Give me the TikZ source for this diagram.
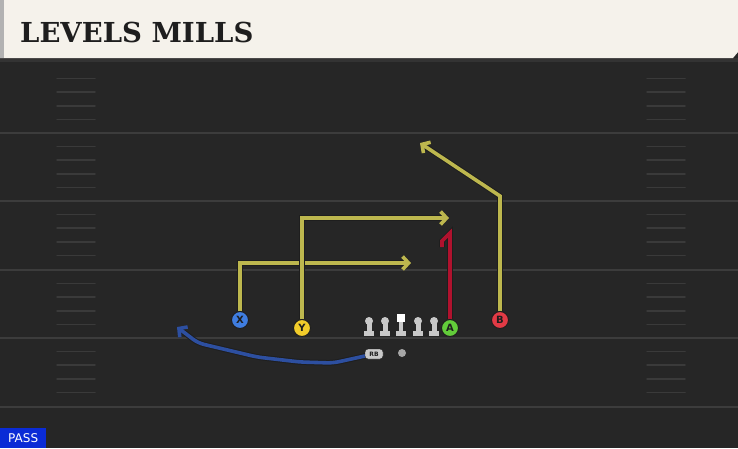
\documentclass[tikz,border=0pt]{standalone}
\usepackage{fontspec}
\newfontfamily\titlefont{DejaVu Serif}[BoldFont={DejaVu Serif Bold}]
\setsansfont{DejaVu Sans}
\usepackage{xcolor}
\definecolor{field}{HTML}{262626}
\definecolor{yardline}{HTML}{3C3C3C}
\definecolor{hashmark}{HTML}{3A3A3A}
\definecolor{header}{HTML}{F5F2EB}
\definecolor{ink}{HTML}{1E1E1E}
\definecolor{route}{HTML}{BDB74E}
\definecolor{redroute}{HTML}{B0122E}
\definecolor{bluerun}{HTML}{2D4FA0}
\definecolor{xblue}{HTML}{3F7DE0}
\definecolor{yyellow}{HTML}{F2CC2A}
\definecolor{agreen}{HTML}{62CC3A}
\definecolor{bred}{HTML}{E23A45}
\definecolor{lineman}{HTML}{C9C9C9}
\definecolor{passblue}{HTML}{0A2BD6}
\usepackage{tikz}
\usetikzlibrary{arrows.meta}
\pgfdeclarelayer{turf}
\pgfdeclarelayer{routes}
\pgfsetlayers{turf,routes,main}

\tikzset{
  player/.style={circle, draw=ink, line width=1pt, minimum size=17pt, inner sep=0pt, font=\sffamily\bfseries\fontsize{10}{10}\selectfont, text=ink},
  path/.style={line width=3.6pt, line join=miter, preaction={draw=ink, line width=5.6pt}},
  tip/.style={-{Straight Barb[length=6pt, width=13pt, line width=3.6pt]}},
}

\begin{document}
\begin{tikzpicture}[x=1pt, y=-1pt]
  \useasboundingbox (0,0) rectangle (738,448);
  \begin{pgfonlayer}{turf}
  % field
  \fill[field] (0,0) rectangle (738,448);
  \foreach \yl in {133, 201, 270, 338, 407} {
    \draw[yardline, line width=2pt] (0,\yl) -- (738,\yl);
  }
  \foreach \yl in {65, 133, 201, 270, 338} {
    \foreach \k in {1,...,4} {
      \draw[hashmark, line width=1.5pt, line cap=round] (57,\yl+\k*13.6) -- (95,\yl+\k*13.6);
      \draw[hashmark, line width=1.5pt, line cap=round] (647,\yl+\k*13.6) -- (685,\yl+\k*13.6);
    }
  }
  % header
  \fill[black!80] (0,58) rectangle (738,62);
  \fill[header] (0,0) -- (738,0) -- (738,52) -- (733,58) -- (0,58) -- cycle;
  \fill[gray!60] (0,0) rectangle (4,58);
  \end{pgfonlayer}
  \node[anchor=base west, inner sep=0pt, text=ink, font=\titlefont\bfseries\fontsize{27.5}{27.5}\selectfont] (title) at (20,42) {LEVELS MILLS};

  % line
  \foreach \xl in {369, 385, 418, 434} {
    \fill[lineman] (\xl,321) circle (4);
    \fill[lineman] (\xl-2.5,321) rectangle (\xl+2.5,332);
    \fill[lineman] (\xl-5,331) rectangle (\xl+5,336);
  }
  \fill[white] (397,314) rectangle (405,322);
  \fill[lineman] (399,322) rectangle (403,332);
  \fill[lineman] (396,331) rectangle (406,336);
  \node[fill=lineman, draw=ink, rounded corners=3pt, minimum width=18pt, minimum height=10pt, inner sep=0pt, font=\sffamily\bfseries\fontsize{6}{6}\selectfont, text=ink] (rb) at (374,354) {RB};
  \node[circle, fill=gray!70, minimum size=8pt, inner sep=0pt] (qb) at (402,353) {};

  % skill players
  \node[player, fill=xblue] (x) at (240,320) {X};
  \node[player, fill=yyellow] (y) at (302,328) {Y};
  \node[player, fill=agreen] (a) at (450,328) {A};
  \node[player, fill=bred] (b) at (500,320) {B};
  \coordinate (xend) at (411,263);
  \coordinate (yend) at (449,218);
  \coordinate (bend) at (420,143);
  \coordinate (rbend) at (177,327);

  % routes
  \begin{pgfonlayer}{routes}
  \draw[path, route, tip] (x) |- (xend);
  \draw[path, route, tip] (y) |- (yend);
  \draw[path, route, tip] (b) -- (500,196) -- (bend);
  \draw[path, redroute] (a) -- (450,233) -- (442,241) -- (442,247);
  \draw[path, bluerun, tip, rounded corners=6pt] (rb.center) -- (333,363) -- (300,362) -- (257,357) -- (198,343) -- (rbend);
  \end{pgfonlayer}

  % play type
  \node[fill=passblue, anchor=south west, minimum width=46pt, minimum height=20pt, inner sep=2pt, text=white, font=\sffamily\fontsize{12}{12}\selectfont] (type) at (0,448) {PASS};
\end{tikzpicture}
\end{document}
